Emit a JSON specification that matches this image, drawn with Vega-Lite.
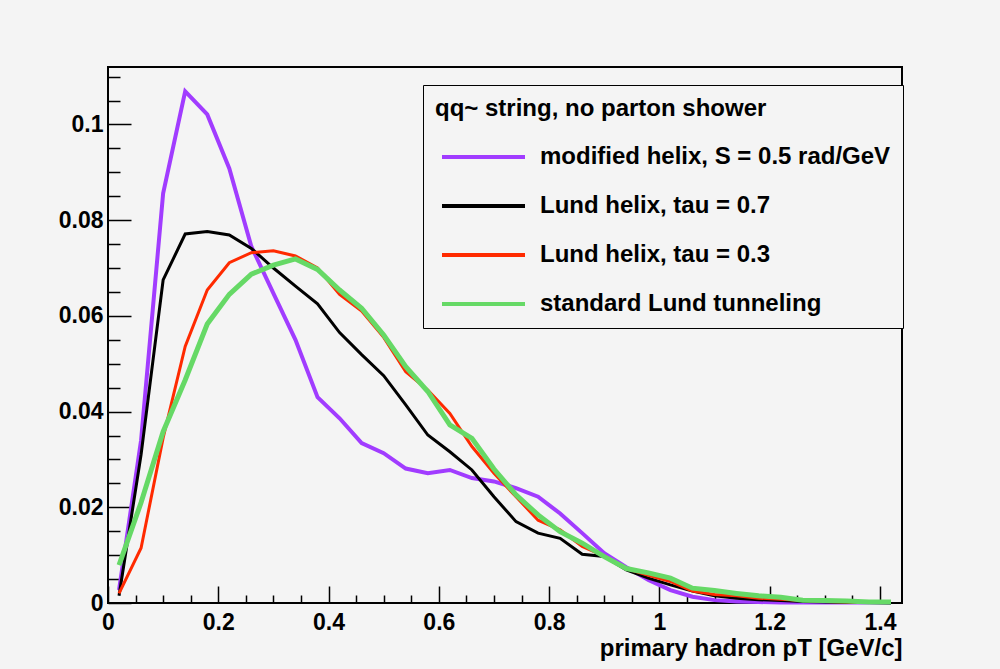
{
  "$schema": "https://vega.github.io/schema/vega-lite/v6.json",
  "width": 794,
  "height": 536,
  "autosize": {"type": "none"},
  "padding": {"left": 108, "top": 67, "right": 98, "bottom": 66},
  "background": "#f4f4f4",
  "config": {
    "view": {"stroke": "#000000", "strokeWidth": 2, "fill": "#f4f4f4"},
    "font": "Liberation Sans"
  },
  "datasets": {
    "h": [
      {"pt":0.02,"model":"modified helix, S = 0.5 rad/GeV","v":0.0027},
      {"pt":0.06,"model":"modified helix, S = 0.5 rad/GeV","v":0.034},
      {"pt":0.10,"model":"modified helix, S = 0.5 rad/GeV","v":0.0856},
      {"pt":0.14,"model":"modified helix, S = 0.5 rad/GeV","v":0.1069},
      {"pt":0.18,"model":"modified helix, S = 0.5 rad/GeV","v":0.1021},
      {"pt":0.22,"model":"modified helix, S = 0.5 rad/GeV","v":0.0908},
      {"pt":0.26,"model":"modified helix, S = 0.5 rad/GeV","v":0.0745},
      {"pt":0.30,"model":"modified helix, S = 0.5 rad/GeV","v":0.0647},
      {"pt":0.34,"model":"modified helix, S = 0.5 rad/GeV","v":0.055},
      {"pt":0.38,"model":"modified helix, S = 0.5 rad/GeV","v":0.043},
      {"pt":0.42,"model":"modified helix, S = 0.5 rad/GeV","v":0.0386},
      {"pt":0.46,"model":"modified helix, S = 0.5 rad/GeV","v":0.0334},
      {"pt":0.50,"model":"modified helix, S = 0.5 rad/GeV","v":0.0313},
      {"pt":0.54,"model":"modified helix, S = 0.5 rad/GeV","v":0.0281},
      {"pt":0.58,"model":"modified helix, S = 0.5 rad/GeV","v":0.0271},
      {"pt":0.62,"model":"modified helix, S = 0.5 rad/GeV","v":0.0278},
      {"pt":0.66,"model":"modified helix, S = 0.5 rad/GeV","v":0.0261},
      {"pt":0.70,"model":"modified helix, S = 0.5 rad/GeV","v":0.0254},
      {"pt":0.74,"model":"modified helix, S = 0.5 rad/GeV","v":0.024},
      {"pt":0.78,"model":"modified helix, S = 0.5 rad/GeV","v":0.0222},
      {"pt":0.82,"model":"modified helix, S = 0.5 rad/GeV","v":0.0187},
      {"pt":0.86,"model":"modified helix, S = 0.5 rad/GeV","v":0.0146},
      {"pt":0.90,"model":"modified helix, S = 0.5 rad/GeV","v":0.0104},
      {"pt":0.94,"model":"modified helix, S = 0.5 rad/GeV","v":0.0075},
      {"pt":0.98,"model":"modified helix, S = 0.5 rad/GeV","v":0.0048},
      {"pt":1.02,"model":"modified helix, S = 0.5 rad/GeV","v":0.0027},
      {"pt":1.06,"model":"modified helix, S = 0.5 rad/GeV","v":0.0013},
      {"pt":1.10,"model":"modified helix, S = 0.5 rad/GeV","v":0.0006},
      {"pt":1.14,"model":"modified helix, S = 0.5 rad/GeV","v":0.0003},
      {"pt":1.18,"model":"modified helix, S = 0.5 rad/GeV","v":0.0002},
      {"pt":1.22,"model":"modified helix, S = 0.5 rad/GeV","v":0.0001},
      {"pt":1.26,"model":"modified helix, S = 0.5 rad/GeV","v":0.0001},
      {"pt":1.30,"model":"modified helix, S = 0.5 rad/GeV","v":0.0001},
      {"pt":1.34,"model":"modified helix, S = 0.5 rad/GeV","v":0.0001},
      {"pt":1.38,"model":"modified helix, S = 0.5 rad/GeV","v":0.0001},
      {"pt":1.42,"model":"modified helix, S = 0.5 rad/GeV","v":0.0001},

      {"pt":0.02,"model":"Lund helix, tau = 0.7","v":0.0015},
      {"pt":0.06,"model":"Lund helix, tau = 0.7","v":0.031},
      {"pt":0.10,"model":"Lund helix, tau = 0.7","v":0.0675},
      {"pt":0.14,"model":"Lund helix, tau = 0.7","v":0.0771},
      {"pt":0.18,"model":"Lund helix, tau = 0.7","v":0.0776},
      {"pt":0.22,"model":"Lund helix, tau = 0.7","v":0.0769},
      {"pt":0.26,"model":"Lund helix, tau = 0.7","v":0.0741},
      {"pt":0.30,"model":"Lund helix, tau = 0.7","v":0.070},
      {"pt":0.34,"model":"Lund helix, tau = 0.7","v":0.0662},
      {"pt":0.38,"model":"Lund helix, tau = 0.7","v":0.0625},
      {"pt":0.42,"model":"Lund helix, tau = 0.7","v":0.0565},
      {"pt":0.46,"model":"Lund helix, tau = 0.7","v":0.0519},
      {"pt":0.50,"model":"Lund helix, tau = 0.7","v":0.0475},
      {"pt":0.54,"model":"Lund helix, tau = 0.7","v":0.0414},
      {"pt":0.58,"model":"Lund helix, tau = 0.7","v":0.0351},
      {"pt":0.62,"model":"Lund helix, tau = 0.7","v":0.0316},
      {"pt":0.66,"model":"Lund helix, tau = 0.7","v":0.0278},
      {"pt":0.70,"model":"Lund helix, tau = 0.7","v":0.0222},
      {"pt":0.74,"model":"Lund helix, tau = 0.7","v":0.017},
      {"pt":0.78,"model":"Lund helix, tau = 0.7","v":0.0146},
      {"pt":0.82,"model":"Lund helix, tau = 0.7","v":0.0135},
      {"pt":0.86,"model":"Lund helix, tau = 0.7","v":0.0102},
      {"pt":0.90,"model":"Lund helix, tau = 0.7","v":0.0097},
      {"pt":0.94,"model":"Lund helix, tau = 0.7","v":0.0069},
      {"pt":0.98,"model":"Lund helix, tau = 0.7","v":0.0052},
      {"pt":1.02,"model":"Lund helix, tau = 0.7","v":0.0038},
      {"pt":1.06,"model":"Lund helix, tau = 0.7","v":0.0025},
      {"pt":1.10,"model":"Lund helix, tau = 0.7","v":0.0015},
      {"pt":1.14,"model":"Lund helix, tau = 0.7","v":0.001},
      {"pt":1.18,"model":"Lund helix, tau = 0.7","v":0.0007},
      {"pt":1.22,"model":"Lund helix, tau = 0.7","v":0.0005},
      {"pt":1.26,"model":"Lund helix, tau = 0.7","v":0.0003},
      {"pt":1.30,"model":"Lund helix, tau = 0.7","v":0.0002},
      {"pt":1.34,"model":"Lund helix, tau = 0.7","v":0.0001},
      {"pt":1.38,"model":"Lund helix, tau = 0.7","v":0.0001},
      {"pt":1.42,"model":"Lund helix, tau = 0.7","v":0.0},

      {"pt":0.02,"model":"Lund helix, tau = 0.3","v":0.002},
      {"pt":0.06,"model":"Lund helix, tau = 0.3","v":0.0115},
      {"pt":0.10,"model":"Lund helix, tau = 0.3","v":0.0345},
      {"pt":0.14,"model":"Lund helix, tau = 0.3","v":0.0536},
      {"pt":0.18,"model":"Lund helix, tau = 0.3","v":0.0654},
      {"pt":0.22,"model":"Lund helix, tau = 0.3","v":0.0711},
      {"pt":0.26,"model":"Lund helix, tau = 0.3","v":0.0732},
      {"pt":0.30,"model":"Lund helix, tau = 0.3","v":0.0736},
      {"pt":0.34,"model":"Lund helix, tau = 0.3","v":0.0725},
      {"pt":0.38,"model":"Lund helix, tau = 0.3","v":0.0700},
      {"pt":0.42,"model":"Lund helix, tau = 0.3","v":0.0645},
      {"pt":0.46,"model":"Lund helix, tau = 0.3","v":0.061},
      {"pt":0.50,"model":"Lund helix, tau = 0.3","v":0.0555},
      {"pt":0.54,"model":"Lund helix, tau = 0.3","v":0.0483},
      {"pt":0.58,"model":"Lund helix, tau = 0.3","v":0.0445},
      {"pt":0.62,"model":"Lund helix, tau = 0.3","v":0.0396},
      {"pt":0.66,"model":"Lund helix, tau = 0.3","v":0.0327},
      {"pt":0.70,"model":"Lund helix, tau = 0.3","v":0.0271},
      {"pt":0.74,"model":"Lund helix, tau = 0.3","v":0.0222},
      {"pt":0.78,"model":"Lund helix, tau = 0.3","v":0.0173},
      {"pt":0.82,"model":"Lund helix, tau = 0.3","v":0.0153},
      {"pt":0.86,"model":"Lund helix, tau = 0.3","v":0.0118},
      {"pt":0.90,"model":"Lund helix, tau = 0.3","v":0.0098},
      {"pt":0.94,"model":"Lund helix, tau = 0.3","v":0.0072},
      {"pt":0.98,"model":"Lund helix, tau = 0.3","v":0.0058},
      {"pt":1.02,"model":"Lund helix, tau = 0.3","v":0.0045},
      {"pt":1.06,"model":"Lund helix, tau = 0.3","v":0.0025},
      {"pt":1.10,"model":"Lund helix, tau = 0.3","v":0.0018},
      {"pt":1.14,"model":"Lund helix, tau = 0.3","v":0.0015},
      {"pt":1.18,"model":"Lund helix, tau = 0.3","v":0.001},
      {"pt":1.22,"model":"Lund helix, tau = 0.3","v":0.0008},
      {"pt":1.26,"model":"Lund helix, tau = 0.3","v":0.0005},
      {"pt":1.30,"model":"Lund helix, tau = 0.3","v":0.0003},
      {"pt":1.34,"model":"Lund helix, tau = 0.3","v":0.0002},
      {"pt":1.38,"model":"Lund helix, tau = 0.3","v":0.0001},
      {"pt":1.42,"model":"Lund helix, tau = 0.3","v":0.0001},

      {"pt":0.02,"model":"standard Lund tunneling","v":0.0079},
      {"pt":0.06,"model":"standard Lund tunneling","v":0.021},
      {"pt":0.10,"model":"standard Lund tunneling","v":0.0358},
      {"pt":0.14,"model":"standard Lund tunneling","v":0.0466},
      {"pt":0.18,"model":"standard Lund tunneling","v":0.0583},
      {"pt":0.22,"model":"standard Lund tunneling","v":0.0645},
      {"pt":0.26,"model":"standard Lund tunneling","v":0.0687},
      {"pt":0.30,"model":"standard Lund tunneling","v":0.0706},
      {"pt":0.34,"model":"standard Lund tunneling","v":0.0719},
      {"pt":0.38,"model":"standard Lund tunneling","v":0.0697},
      {"pt":0.42,"model":"standard Lund tunneling","v":0.0654},
      {"pt":0.46,"model":"standard Lund tunneling","v":0.0616},
      {"pt":0.50,"model":"standard Lund tunneling","v":0.056},
      {"pt":0.54,"model":"standard Lund tunneling","v":0.0494},
      {"pt":0.58,"model":"standard Lund tunneling","v":0.0442},
      {"pt":0.62,"model":"standard Lund tunneling","v":0.0372},
      {"pt":0.66,"model":"standard Lund tunneling","v":0.0344},
      {"pt":0.70,"model":"standard Lund tunneling","v":0.028},
      {"pt":0.74,"model":"standard Lund tunneling","v":0.0226},
      {"pt":0.78,"model":"standard Lund tunneling","v":0.0184},
      {"pt":0.82,"model":"standard Lund tunneling","v":0.0149},
      {"pt":0.86,"model":"standard Lund tunneling","v":0.0125},
      {"pt":0.90,"model":"standard Lund tunneling","v":0.0097},
      {"pt":0.94,"model":"standard Lund tunneling","v":0.0072},
      {"pt":0.98,"model":"standard Lund tunneling","v":0.0063},
      {"pt":1.02,"model":"standard Lund tunneling","v":0.0052},
      {"pt":1.06,"model":"standard Lund tunneling","v":0.0031},
      {"pt":1.10,"model":"standard Lund tunneling","v":0.0026},
      {"pt":1.14,"model":"standard Lund tunneling","v":0.002},
      {"pt":1.18,"model":"standard Lund tunneling","v":0.0015},
      {"pt":1.22,"model":"standard Lund tunneling","v":0.0012},
      {"pt":1.26,"model":"standard Lund tunneling","v":0.0006},
      {"pt":1.30,"model":"standard Lund tunneling","v":0.0005},
      {"pt":1.34,"model":"standard Lund tunneling","v":0.0004},
      {"pt":1.38,"model":"standard Lund tunneling","v":0.0002},
      {"pt":1.42,"model":"standard Lund tunneling","v":0.0002}
    ]
  },
  "data": {"name": "h"},
  "resolve": {"axis": {"x": "independent", "y": "independent"}},
  "layer": [
    {
      "encoding": {
        "x": {
          "field": "pt", "type": "quantitative",
          "scale": {"domain": [0, 1.44], "nice": false, "zero": false},
          "axis": {
            "orient": "bottom",
            "values": [0, 0.2, 0.4, 0.6, 0.8, 1, 1.2, 1.4],
            "format": ".1~f",
            "domain": false, "grid": false,
            "tickSize": -17, "tickWidth": 1.5, "tickColor": "#000000",
            "labelPadding": 25, "labelFontSize": 23, "labelFontWeight": "bold",
            "labelColor": "#000000", "labelFont": "Liberation Sans", "labelFlush": false,
            "title": "primary hadron pT [GeV/c]",
            "titleAnchor": "end", "titleFontSize": 24, "titleFontWeight": "bold",
            "titleColor": "#000000", "titleFont": "Liberation Sans", "titlePadding": 2
          }
        },
        "y": {
          "field": "v", "type": "quantitative",
          "scale": {"domain": [0, 0.112], "nice": false},
          "axis": {
            "orient": "left",
            "values": [0, 0.02, 0.04, 0.06, 0.08, 0.1],
            "format": ".2~f",
            "domain": false, "grid": false,
            "tickSize": -23, "tickWidth": 1.5, "tickColor": "#000000",
            "labelPadding": 28, "labelFontSize": 23, "labelFontWeight": "bold",
            "labelColor": "#000000", "labelFont": "Liberation Sans", "labelFlush": false,
            "title": null
          }
        },
        "color": {
          "field": "model", "type": "nominal",
          "scale": {
            "domain": ["modified helix, S = 0.5 rad/GeV", "Lund helix, tau = 0.7", "Lund helix, tau = 0.3", "standard Lund tunneling"],
            "range": ["#a13cff", "#000000", "#ff2a00", "#66d966"]
          },
          "legend": {
            "orient": "none", "legendX": 315, "legendY": 18,
            "title": "qq~ string, no parton shower",
            "titleFontSize": 24, "titleFontWeight": "bold", "titleColor": "#000000",
            "titleFont": "Liberation Sans", "titlePadding": 24, "titleLimit": 0,
            "labelFontSize": 24, "labelFontWeight": "bold", "labelColor": "#000000",
            "labelFont": "Liberation Sans", "labelLimit": 0, "labelOffset": 13,
            "symbolType": "stroke", "symbolSize": 6889, "symbolStrokeWidth": 4,
            "symbolOffset": 5,
            "clipHeight": 24, "rowPadding": 25,
            "padding": 12,
            "fillColor": "#f4f4f4", "strokeColor": "#000000"
          }
        }
      },
      "layer": [
        {"transform": [{"filter": "datum.model == 'modified helix, S = 0.5 rad/GeV'"}], "mark": {"type": "line", "strokeWidth": 4}},
        {"transform": [{"filter": "datum.model == 'Lund helix, tau = 0.7'"}], "mark": {"type": "line", "strokeWidth": 3}},
        {"transform": [{"filter": "datum.model == 'Lund helix, tau = 0.3'"}], "mark": {"type": "line", "strokeWidth": 3}},
        {"transform": [{"filter": "datum.model == 'standard Lund tunneling'"}], "mark": {"type": "line", "strokeWidth": 5}}
      ]
    },
    {
      "mark": {"type": "point", "opacity": 0},
      "encoding": {
        "x": {
          "field": "pt", "type": "quantitative",
          "axis": {
            "orient": "bottom",
            "values": [0.05,0.1,0.15,0.25,0.3,0.35,0.45,0.5,0.55,0.65,0.7,0.75,0.85,0.9,0.95,1.05,1.1,1.15,1.25,1.3,1.35],
            "labels": false, "domain": false, "grid": false, "title": null,
            "tickSize": -8, "tickWidth": 1.5, "tickColor": "#000000"
          }
        },
        "y": {
          "field": "v", "type": "quantitative",
          "axis": {
            "orient": "left",
            "values": [0.005,0.01,0.015,0.025,0.03,0.035,0.045,0.05,0.055,0.065,0.07,0.075,0.085,0.09,0.095,0.105,0.11],
            "labels": false, "domain": false, "grid": false, "title": null,
            "tickSize": -12, "tickWidth": 1.5, "tickColor": "#000000"
          }
        }
      }
    }
  ]
}
